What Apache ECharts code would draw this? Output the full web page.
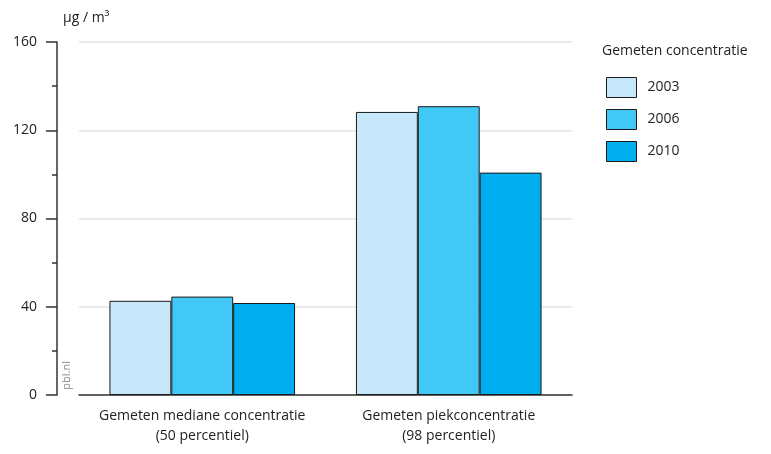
<!DOCTYPE html>
<html><head><meta charset="utf-8">
<script src="https://cdn.jsdelivr.net/npm/echarts@6/dist/echarts.min.js"></script>
<style>html,body{margin:0;padding:0;background:#fff}#c{width:771px;height:454px}</style>
</head><body><div id="c"></div>
<script>
var categories = ['Gemeten mediane concentratie\n(50 percentiel)', 'Gemeten piekconcentratie\n(98 percentiel)'];
var seriesNames = ['2003', '2006', '2010'];
var values2003 = [42.7, 128.3];
var values2006 = [44.6, 130.9];
var values2010 = [41.7, 100.8];
var colors = ['#c6e8fa', '#42c8f4', '#00aeef'];
var FONT = 'Open Sans';
var chart = echarts.init(document.getElementById('c'));
var allValues = [values2003, values2006, values2010];
chart.setOption({
  animation: false,
  textStyle: {fontFamily: FONT},
  title: [
    {text: 'µg / m³', left: 58, top: 6, textStyle: {fontFamily: FONT, fontSize: 14, fontWeight: 'normal', color: '#222'}},
    {text: 'Gemeten concentratie', left: 597, top: 39, textStyle: {fontFamily: FONT, fontSize: 14, fontWeight: 'normal', color: '#222'}}
  ],
  graphic: [{type: 'text', left: 61, top: 361, rotation: Math.PI/2, style: {text: 'pbl.nl', fontFamily: FONT, fontSize: 11, fill: '#8a8a8a'}}],
  legend: {orient: 'vertical', left: 601, top: 72, itemWidth: 30, itemHeight: 20, itemGap: 11, icon: 'rect',
    textStyle: {fontFamily: FONT, fontSize: 14, color: '#222', padding: [0,0,0,6]}, data: seriesNames,
    itemStyle: {borderColor: '#1a1a1a', borderWidth: 1}},
  grid: {left: 79, right: 199, top: 42, bottom: 59},
  xAxis: {type: 'category', data: categories,
    axisLine: {lineStyle: {color: '#333', width: 1.5}}, axisTick: {show: false},
    axisLabel: {interval: 0, fontFamily: FONT, fontSize: 14, color: '#222', lineHeight: 20, margin: 11}},
  yAxis: {type: 'value', min: 0, max: 160, interval: 40, offset: 22,
    axisLine: {show: true, lineStyle: {color: '#333', width: 1.5}},
    axisTick: {show: true, length: 11, lineStyle: {color: '#333', width: 1.5}},
    minorTick: {show: true, splitNumber: 2, length: 5, lineStyle: {color: '#333', width: 1.5}},
    axisLabel: {fontFamily: FONT, fontSize: 14, color: '#222', margin: 20},
    splitLine: {show: true, lineStyle: {color: '#e3e3e3', width: 1.5}}},
  series: seriesNames.map(function(n, i){
    return {name: n, type: 'bar', data: allValues[i], barGap: '0%', barCategoryGap: '24.7%',
      itemStyle: {color: colors[i], borderColor: '#1a1a1a', borderWidth: 1}};
  })
});
</script></body></html>
